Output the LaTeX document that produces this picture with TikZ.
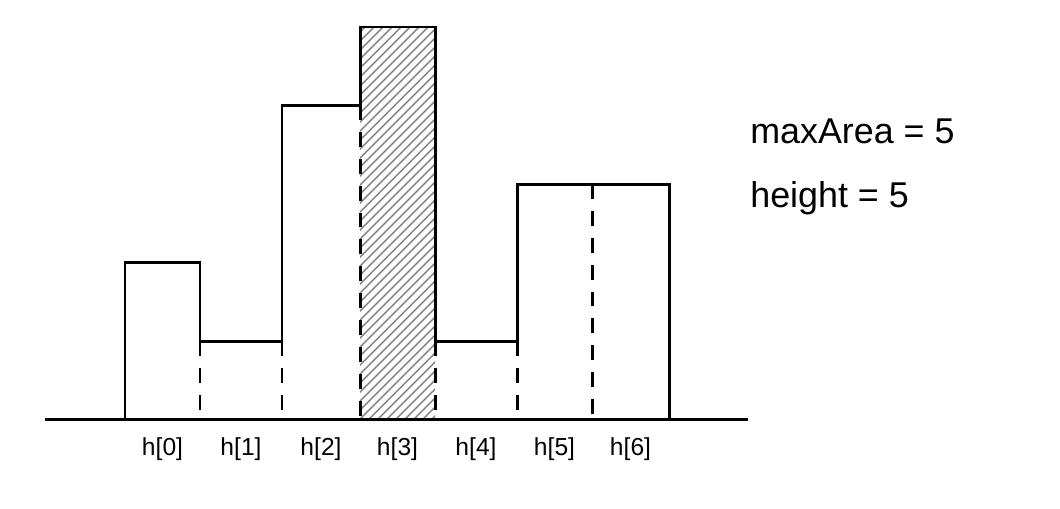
\documentclass[tikz,border=0pt]{standalone}
\usepackage{fontspec}
\setmainfont{Liberation Sans}
\usetikzlibrary{positioning}

\begin{document}
\begin{tikzpicture}[x=0.02cm, y=-0.02cm,
    skyline/.style={line width=1.7pt, line join=miter},
    divider/.style={line width=1.7pt, dash pattern=on 8.5pt off 6.8pt},
    hatchline/.style={gray, line width=0.8pt},
    barlabel/.style={font=\fontsize{14}{16}\selectfont, inner sep=0pt},
    info/.style={font=\fontsize{20.4}{24}\selectfont, inner sep=0pt, anchor=base west}]
  \useasboundingbox (0,0) rectangle (1060,508);

  % hatched bar h[3]
  \begin{scope}
    \clip (360,27) rectangle (435,419);
    \foreach \s in {-45,...,9}
      \draw[hatchline] (360+\s*9,419) -- ++(400,-400);
  \end{scope}

  % dashed dividers between bars
  \foreach \x/\top in {200/341, 282/341, 360/105, 435/341, 517/341, 592/184}
    \draw[divider] (\x,\top) -- (\x,419);

  % outline of the bars
  \draw[skyline] (125,419) |- (200,262) |- (282,341) |- (360,105)
    |- (435,27) |- (517,341) |- (669,184) -- (669,419);

  % baseline
  \draw[skyline] (45,419) -- (748,419);

  % labels under the bars
  \foreach \a/\b [count=\i from 0] in {125/200, 200/282, 282/360, 360/435, 435/517, 517/592, 592/669}
    \node[barlabel] (h\i) at ({(\a+\b)/2},449) {h[\i]};

  \node[info] (maxarea) at (750,143) {maxArea = 5};
  \node[info] (height) at (750,207) {height = 5};
\end{tikzpicture}
\end{document}
